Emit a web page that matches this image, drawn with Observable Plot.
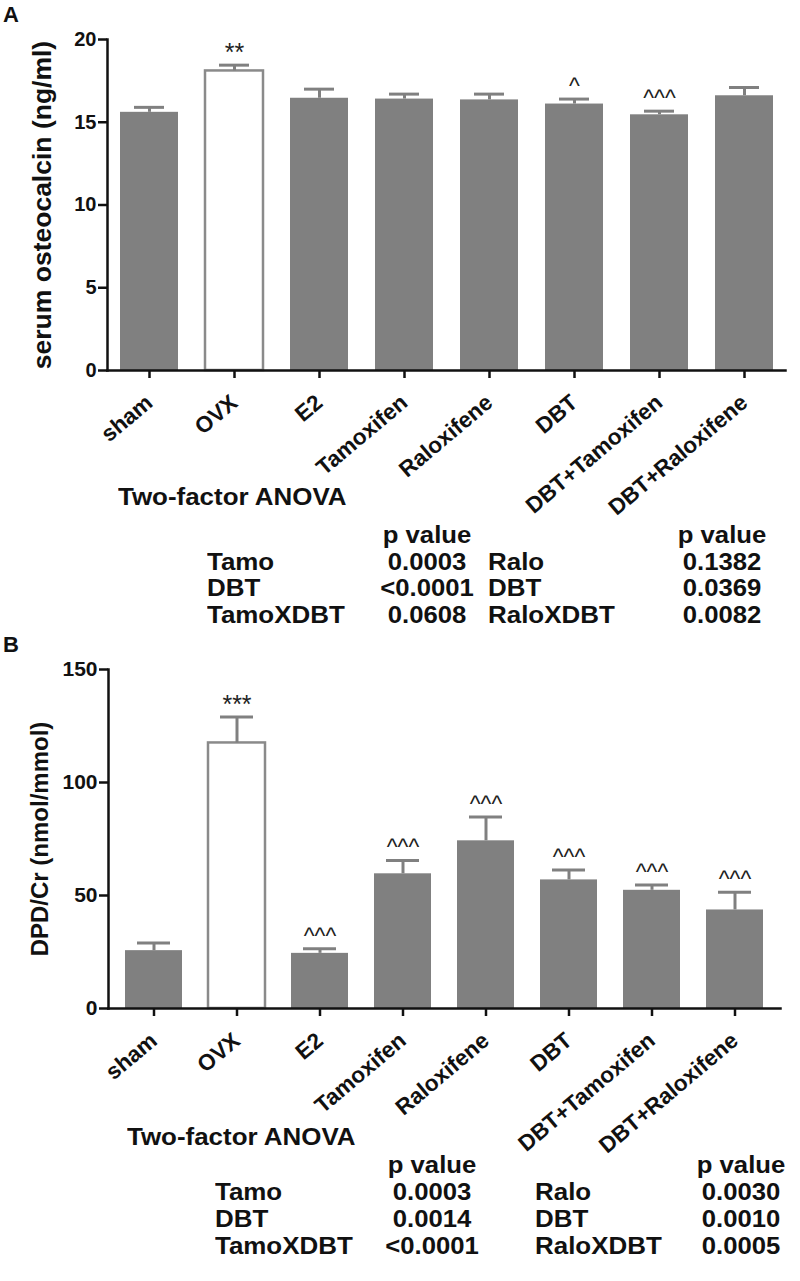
<!DOCTYPE html>
<html>
<head>
<meta charset="utf-8">
<script src="https://cdn.jsdelivr.net/npm/d3@7"></script>
<script src="https://cdn.jsdelivr.net/npm/@observablehq/plot@0.6"></script>
<style>
  body { margin: 0; background: #fff; }
  #root { position: relative; width: 800px; height: 1281px; overflow: hidden; font-family: "Liberation Sans", Arial, sans-serif; color: #111; }
  .panel { position: absolute; left: 0; }
  .t { position: absolute; font-weight: bold; white-space: nowrap; line-height: 1; }
</style>
</head>
<body>
<div id="root"></div>
<script>
// ---- data ----
const groups = ["sham", "OVX", "E2", "Tamoxifen", "Raloxifene", "DBT", "DBT+Tamoxifen", "DBT+Raloxifene"];

const osteoMean = [15.6, 18.1, 16.45, 16.4, 16.35, 16.1, 15.45, 16.6];
const osteoSem  = [0.3, 0.35, 0.55, 0.3, 0.35, 0.3, 0.22, 0.5];
const osteoSig  = ["", "**", "", "", "", "^", "^^^", ""];
const osteoTicks = [0, 5, 10, 15, 20];

const dpdMean = [25.6, 117.5, 24.4, 59.6, 74.2, 56.9, 52.3, 43.6];
const dpdSem  = [3.4, 11.5, 2.0, 5.9, 10.5, 4.4, 2.4, 7.8];
const dpdSig  = ["", "***", "^^^", "^^^", "^^^", "^^^", "^^^", "^^^"];
const dpdTicks = [0, 50, 100, 150];

const anovaTitle = "Two-factor ANOVA";
const pHeader = "p value";
const tamoFactors = ["Tamo", "DBT", "TamoXDBT"];
const raloFactors = ["Ralo", "DBT", "RaloXDBT"];
const osteoPTamo = ["0.0003", "<0.0001", "0.0608"];
const osteoPRalo = ["0.1382", "0.0369", "0.0082"];
const dpdPTamo = ["0.0003", "0.0014", "<0.0001"];
const dpdPRalo = ["0.0030", "0.0010", "0.0005"];

const root = document.getElementById("root");
const FONT = "'Liberation Sans', Arial, sans-serif";
const BAR = "#808080";

function makePanel(cfg) {
  const data = groups.map((g, i) => ({group: g, mean: cfg.mean[i], sem: cfg.sem[i], sig: cfg.sig[i]}));
  const stars = data.filter(d => d.sig.startsWith("*"));
  const carets = data.filter(d => d.sig.startsWith("^"));
  return Plot.plot({
    width: 800,
    height: cfg.height,
    marginLeft: cfg.ml,
    marginRight: cfg.mr,
    marginTop: cfg.mt,
    marginBottom: cfg.mb,
    style: {fontFamily: FONT, fontSize: "20px", fontWeight: "bold", background: "transparent", overflow: "visible", color: "#111"},
    x: {domain: groups, paddingInner: cfg.pi, paddingOuter: cfg.po, label: null},
    y: {domain: cfg.domain, label: null},
    marks: [
      Plot.barY(data.filter(d => d.group !== "OVX"), {x: "group", y: "mean", fill: BAR}),
      Plot.barY(data.filter(d => d.group === "OVX"), {x: "group", y: "mean", fill: "white", stroke: "#8a8a8a", strokeWidth: 2.5}),
      Plot.ruleX(data, {x: "group", y1: "mean", y2: d => d.mean + d.sem, stroke: BAR, strokeWidth: 3}),
      Plot.tickY(data, {x: "group", y: d => d.mean + d.sem, stroke: BAR, strokeWidth: 3, insetLeft: cfg.capInset, insetRight: cfg.capInset}),
      Plot.text(stars, {x: "group", y: d => d.mean + d.sem, text: "sig", lineAnchor: "bottom", dy: -4, fontSize: 25, fontWeight: "normal", fill: "#222"}),
      Plot.text(carets, {x: "group", y: d => d.mean + d.sem, text: "sig", lineAnchor: "bottom", dy: -5, fontSize: 23, fontWeight: "normal", fill: "#222"}),
      Plot.axisY({ticks: cfg.ticks, tickSize: 9, tickPadding: 2, strokeWidth: 2.5, fontSize: cfg.yTickSize, label: null}),
      Plot.axisX({tickSize: 8, tickPadding: 21, tickRotate: -40, strokeWidth: 2.5, fontSize: 22.5, label: null}),
      Plot.frame({anchor: "left", strokeWidth: 2.5}),
      Plot.frame({anchor: "bottom", strokeWidth: 2.5}),
      Plot.text([cfg.title], {frameAnchor: "left", rotate: -90, textAnchor: "middle", dx: cfg.titleDx, fontSize: cfg.titleSize, fontWeight: "bold", text: d => d})
    ]
  });
}

function addPanel(top, cfg) {
  const div = document.createElement("div");
  div.className = "panel";
  div.style.top = top + "px";
  div.appendChild(makePanel(cfg));
  root.appendChild(div);
}

function addText(str, left, baseline, size, align) {
  const el = document.createElement("div");
  el.className = "t";
  el.textContent = str;
  el.style.fontSize = size + "px";
  const top = baseline - 0.8465 * size;
  el.style.top = top + "px";
  if (align === "center") {
    el.style.left = (left - 70) + "px";
    el.style.width = "140px";
    el.style.textAlign = "center";
    el.style.transform = "scaleX(1.07)";
    el.style.transformOrigin = "center";
  } else {
    el.style.left = left + "px";
    el.style.transform = "scaleX(1.08)";
    el.style.transformOrigin = "left";
  }
  root.appendChild(el);
}

function addTable(t) {
  addText(anovaTitle, t.titleX, t.titleBase, 24);
  addText(pHeader, t.c1, t.headBase, 24, "center");
  addText(pHeader, t.c2, t.headBase, 24, "center");
  for (let i = 0; i < 3; i++) {
    const b = t.rowBase[i];
    addText(tamoFactors[i], t.l1, b, 24);
    addText(t.pTamo[i], t.c1, b, 24, "center");
    addText(raloFactors[i], t.l2, b, 24);
    addText(t.pRalo[i], t.c2, b, 24, "center");
  }
}

function addLetter(str, left, top) {
  const el = document.createElement("div");
  el.className = "t";
  el.textContent = str;
  el.style.fontSize = "22px";
  el.style.left = left + "px";
  el.style.top = top + "px";
  root.appendChild(el);
}

addPanel(0, {
  mean: osteoMean, sem: osteoSem, sig: osteoSig, ticks: osteoTicks, domain: [0, 20],
  height: 640, ml: 107, mr: 15, mt: 39, mb: 270, pi: 0.32, po: 0.14, capInset: 14, yTickSize: 20,
  title: "serum osteocalcin (ng/ml)", titleDx: -65, titleSize: 26.5
});
addPanel(640, {
  mean: dpdMean, sem: dpdSem, sig: dpdSig, ticks: dpdTicks, domain: [0, 150],
  height: 641, ml: 108, mr: 20, mt: 29, mb: 273, pi: 0.315, po: 0.195, capInset: 12, yTickSize: 21,
  title: "DPD/Cr (nmol/mmol)", titleDx: -68, titleSize: 24
});

addLetter("A", 3, 4);
addLetter("B", 3, 634);

addTable({titleX: 118, titleBase: 505, c1: 427, c2: 722, headBase: 543, rowBase: [570, 596.5, 623], l1: 207, l2: 488, pTamo: osteoPTamo, pRalo: osteoPRalo});
addTable({titleX: 127, titleBase: 1145, c1: 432, c2: 741, headBase: 1173, rowBase: [1200, 1227, 1254], l1: 215, l2: 535, pTamo: dpdPTamo, pRalo: dpdPRalo});
</script>
</body>
</html>
